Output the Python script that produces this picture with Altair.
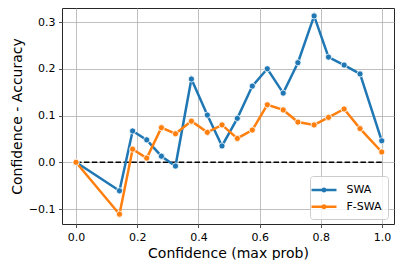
import altair as alt
import pandas as pd

conf = [0.0, 0.142, 0.185, 0.231, 0.279, 0.325, 0.377, 0.429, 0.477, 0.527,
        0.576, 0.625, 0.677, 0.725, 0.778, 0.825, 0.876, 0.928, 0.999]
swa = [0.0, -0.061, 0.067, 0.048, 0.013, -0.008, 0.178, 0.101, 0.035, 0.094,
       0.163, 0.200, 0.148, 0.213, 0.313, 0.225, 0.208, 0.189, 0.046]
fswa = [0.0, -0.111, 0.028, 0.009, 0.074, 0.061, 0.088, 0.064, 0.080, 0.051,
        0.069, 0.123, 0.112, 0.086, 0.080, 0.096, 0.114, 0.072, 0.022]
series = ["SWA", "F-SWA"]
colors = ["#1f77b4", "#ff7f0e"]
zero_x = [0.0, 1.0]
zero_y = [0.0, 0.0]
x_ticks = [0.0, 0.2, 0.4, 0.6, 0.8, 1.0]
y_ticks = [-0.1, 0.0, 0.1, 0.2, 0.3]

rows = []
for name, vals in zip(series, [swa, fswa]):
    for i, (c, v) in enumerate(zip(conf, vals)):
        rows.append({"conf": c, "diff": v, "model": name, "order": i})
df = pd.DataFrame(rows)
zero_df = pd.DataFrame({"conf": zero_x, "diff": zero_y})

x_enc = alt.X("conf:Q",
              scale=alt.Scale(domain=[-0.0458, 1.039], nice=False, zero=False),
              axis=alt.Axis(values=x_ticks, format=".1f", title="Confidence (max prob)"))
y_enc = alt.Y("diff:Q",
              scale=alt.Scale(domain=[-0.132, 0.330], nice=False, zero=False),
              axis=alt.Axis(values=y_ticks, format=".1f", title="Confidence - Accuracy"))

legend_path = ("M-1.85,0H1.85M0.2,0A0.2,0.2,0,1,1,-0.2,0"
               "A0.2,0.2,0,1,1,0.2,0")

lines = alt.Chart(df).mark_line(
    strokeWidth=2.5,
    point=alt.OverlayMarkDef(filled=True, size=38, stroke="white", strokeWidth=0.8),
).encode(
    x=x_enc,
    y=y_enc,
    order="order:Q",
    color=alt.Color("model:N",
                    scale=alt.Scale(domain=series, range=colors),
                    legend=alt.Legend(
                        title=None, orient="none", legendX=248, legendY=168,
                        symbolType=legend_path, symbolSize=182,
                        symbolStrokeWidth=2.4, labelFontSize=11,
                        labelFont="DejaVu Sans", labelColor="black",
                        labelOffset=14.5, padding=6, rowPadding=1.7,
                        strokeColor="#cccccc", fillColor="rgba(255,255,255,0.8)",
                        cornerRadius=3)),
)

zero = alt.Chart(zero_df).mark_line(
    color="black", strokeWidth=1.6, strokeDash=[5.5, 2.4]
).encode(x="conf:Q", y="diff:Q")

chart = alt.layer(zero, lines).properties(
    width=332, height=216,
    autosize="none",
    padding={"left": 54, "top": 0, "right": 1, "bottom": 36},
).configure_view(
    stroke="#262626", strokeWidth=1
).configure_axis(
    grid=True, gridColor="#b0b0b0", gridWidth=0.8,
    domain=False,
    tickColor="#262626", tickSize=3.5, tickWidth=0.8,
    labelFont="DejaVu Sans", labelFontSize=11, labelColor="black",
    labelPadding=3.5,
    titleFont="DejaVu Sans", titleFontSize=14, titleFontWeight="normal",
    titleColor="black", titlePadding=4,
)

chart.save("out.html", embed_options={"renderer": "svg", "actions": False})
